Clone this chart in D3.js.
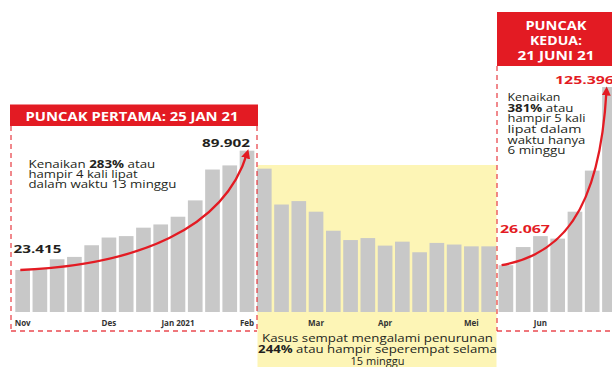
<!DOCTYPE html>
<html><head><meta charset="utf-8">
<script src="https://cdn.jsdelivr.net/npm/d3@7"></script>
<style>
html,body{margin:0;padding:0;background:#fff;}
svg{display:block;font-family:"Open Sans",sans-serif;}
</style></head>
<body><svg id="c" width="612" height="367"></svg>
<script>
const weeks = ["2020-11-02","2020-11-09","2020-11-16","2020-11-23","2020-11-30","2020-12-07","2020-12-14","2020-12-21","2020-12-28","2021-01-04","2021-01-11","2021-01-18","2021-01-25","2021-02-01","2021-02-08","2021-02-15","2021-02-22","2021-03-01","2021-03-08","2021-03-15","2021-03-22","2021-03-29","2021-04-05","2021-04-12","2021-04-19","2021-04-26","2021-05-03","2021-05-10","2021-05-17","2021-05-24","2021-05-31","2021-06-07","2021-06-14","2021-06-21","2021-06-28"];
const cases = [23.415,24.4,29.4,30.7,37.2,41.5,42.3,47.0,48.8,53.1,62.2,79.4,81.7,89.902,79.9,59.9,61.8,55.9,45.3,40.1,41.2,37.0,39.2,33.3,38.5,37.6,36.6,36.6,26.067,36.2,42.3,40.9,55.9,78.8,125.396];
const tickWeeks = ["2020-11-02","2020-12-07","2021-01-04","2021-02-01","2021-03-01","2021-03-29","2021-05-03","2021-05-31"];
const tickLabels = ["Nov","Des","Jan 2021","Feb","Mar","Apr","Mei","Jun"];
const peak1 = {start:"2020-11-02", end:"2021-02-01", startLabel:"23.415", endLabel:"89.902"};
const peak2 = {start:"2021-05-17", end:"2021-06-28", startLabel:"26.067", endLabel:"125.396"};

const RED = "#e31b23", GRAY = "#c8c8c8", YELLOW = "#fdf5b6", DARK = "#231f20";
const svg = d3.select("#c");
const x = d3.scaleBand().domain(weeks).range([14, 618.1]).paddingInner(0.15).paddingOuter(0.075);
const y = d3.scaleLinear().domain([0, 125.396]).range([312, 87]);
const bw = x.bandwidth();

function fit(sel, target){
  if (!target) return;
  sel.each(function(){
    const w = this.getBBox().width;
    const ax = +this.getAttribute("x");
    const s = target / w;
    this.setAttribute("transform", `translate(${ax},0) scale(${s},1) translate(${-ax},0)`);
  });
}

svg.append("rect").attr("x",257.5).attr("y",165).attr("width",239).attr("height",210).attr("fill",YELLOW);

svg.append("g").selectAll("rect").data(weeks).join("rect")
  .attr("x", d => x(d)).attr("width", bw)
  .attr("y", (d,i) => y(cases[i])).attr("height", (d,i) => y(0) - y(cases[i]))
  .attr("fill", GRAY);

const ax = svg.append("g").attr("transform", `translate(0,${y(0)})`)
  .call(d3.axisBottom(x).tickValues(tickWeeks).tickFormat((d,i)=>tickLabels[i]).tickSize(0).tickPadding(8));
ax.select(".domain").remove();
ax.selectAll("text").attr("font-size",8).attr("font-weight","bold").attr("fill","#333")
  .attr("font-family","'Open Sans',sans-serif");

const dash = {stroke:RED, "stroke-width":1.3, "stroke-dasharray":"5,4", fill:"none", opacity:0.8};
function dline(x1,y1,x2,y2){ const l=svg.append("line").attr("x1",x1).attr("y1",y1).attr("x2",x2).attr("y2",y2); for(const k in dash) l.attr(k,dash[k]); }
dline(11,126,11,331); dline(257,126,257,331); dline(11,331,257,331);
dline(497,66,497,331); dline(497,331,612,331);

svg.append("rect").attr("x",10).attr("y",104.5).attr("width",248).attr("height",21.5).attr("fill",RED);
const h1 = svg.append("text").attr("x",132).attr("y",121).attr("text-anchor","middle")
  .attr("fill","#fff").attr("font-weight","bold").attr("font-size",13).text("PUNCAK PERTAMA: 25 JAN 21");
fit(h1, 213);
svg.append("rect").attr("x",497).attr("y",12).attr("width",120).attr("height",54).attr("fill",RED);
[["PUNCAK",30,62],["KEDUA:",45,52],["21 JUNI 21",60,77]].forEach(([t,yy,w])=>{
  const e = svg.append("text").attr("x",556).attr("y",yy).attr("text-anchor","middle")
    .attr("fill","#fff").attr("font-weight","bold").attr("font-size",12.5).text(t);
  fit(e,w);
});

svg.append("defs").append("marker").attr("id","ah").attr("viewBox","0 0 10 10").attr("refX",5).attr("refY",5)
  .attr("markerWidth",4).attr("markerHeight",4).attr("orient","auto")
  .append("path").attr("d","M0,0 L10,5 L0,10 z").attr("fill",RED);
function arrow(p0,c1,c2,p3){
  const p = d3.path(); p.moveTo(...p0); p.bezierCurveTo(...c1,...c2,...p3);
  svg.append("path").attr("d",p.toString()).attr("fill","none").attr("stroke",RED).attr("stroke-width",2.3)
    .attr("marker-end","url(#ah)");
}
{
  const i0 = weeks.indexOf(peak1.start), i1 = weeks.indexOf(peak1.end);
  const x0 = x(peak1.start)+5, y0 = y(cases[i0]);
  const x1 = x(peak1.end)+bw/2, y1 = y(cases[i1])+3;
  arrow([x0,y0],[x0+118,y0-5],[x1-23,y1+75],[x1,y1]);
}
{
  const i0 = weeks.indexOf(peak2.start), i1 = weeks.indexOf(peak2.end);
  const x0 = x(peak2.start)+3, y0 = y(cases[i0]);
  const x1 = x(peak2.end)+bw/2-3, y1 = y(cases[i1])+4;
  arrow([x0,y0],[x0+57,y0-10],[x1-7,y0-50],[x1,y1]);
}

function vlabel(txt,xx,yy,col,w){
  const e = svg.append("text").attr("x",xx).attr("y",yy).attr("fill",col).attr("font-weight","bold")
    .attr("font-size",11).text(txt);
  fit(e,w);
}
vlabel(peak1.startLabel, 13.5, 253.5, DARK, 48);
vlabel(peak1.endLabel, 202, 147.5, DARK, 48);
vlabel(peak2.startLabel, 500, 233.5, RED, 50);
vlabel(peak2.endLabel, 555, 84.5, RED, 59);

function para(lines, xx, y0, lh, fs, anchor){
  lines.forEach(([parts,w],k)=>{
    const t = svg.append("text").attr("x",xx).attr("y",y0+k*lh).attr("font-size",fs)
      .attr("fill",DARK).attr("text-anchor",anchor||"start");
    parts.forEach(([s,b])=>t.append("tspan").attr("font-weight",b?"bold":"normal").text(s));
    fit(t,w);
  });
}
para([
  [[["Kenaikan "],["283%",1],[" atau"]],127],
  [[["hampir 4 kali lipat"]],110],
  [[["dalam waktu 13 minggu"]],148]
], 28.5, 168, 10.2, 10);
para([
  [[["Kenaikan"]],53],
  [[["381%",1],[" atau"]],66],
  [[["hampir 5 kali"]],78],
  [[["lipat dalam"]],74],
  [[["waktu hanya"]],78],
  [[["6 minggu"]],58]
], 507.5, 101, 10.7, 10);
para([
  [[["Kasus sempat mengalami penurunan"]],231],
  [[["244%",1],[" atau hampir seperempat selama"]],239],
  [[["15 minggu"]],0]
], 377.5, 342.5, 11, 11, "middle");
</script></body></html>
